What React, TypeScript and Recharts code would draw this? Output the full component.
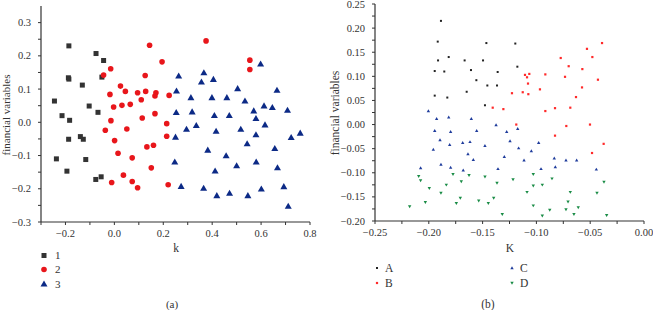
import React from 'react';
import { ScatterChart, Scatter, XAxis, YAxis } from 'recharts';

// ---------- Panel (a) data ----------
const cluster1: [number, number][] = [
  [-0.245, 0.064], [-0.186, 0.23], [-0.188, 0.134], [-0.186, 0.13], [-0.075, 0.207],
  [-0.044, 0.186], [-0.051, 0.136], [-0.131, 0.112], [-0.103, 0.049], [-0.067, 0.03],
  [-0.214, 0.02], [-0.183, 0.006], [-0.187, -0.051], [-0.139, -0.043], [-0.127, -0.051],
  [-0.237, -0.11], [-0.117, -0.112], [-0.194, -0.147], [-0.076, -0.172], [-0.054, -0.164],
];
const cluster2: [number, number][] = [
  [0.144, 0.232], [0.375, 0.245], [0.195, 0.182], [0.554, 0.187], [0.554, 0.159],
  [-0.015, 0.161], [-0.044, 0.142], [0.126, 0.141], [0.025, 0.109], [0.045, 0.093],
  [0.095, 0.089], [0.128, 0.093], [0.17, 0.089], [0.166, 0.079], [-0.018, 0.084],
  [0.224, 0.081], [0.11, 0.068], [-0.003, 0.046], [0.031, 0.051], [0.065, 0.054],
  [0.166, 0.026], [0.114, 0.013], [-0.014, 0.005], [0.214, -0.004], [0.051, -0.02],
  [-0.037, -0.024], [0.214, -0.042], [0.001, -0.055], [0.133, -0.074], [0.16, -0.069],
  [0.015, -0.093], [0.073, -0.107], [0.151, -0.137], [0.037, -0.159], [-0.011, -0.181],
  [0.073, -0.178], [0.095, -0.197], [0.22, -0.188],
];
const cluster3: [number, number][] = [
  [0.263, 0.139], [0.366, 0.149], [0.405, 0.129], [0.356, 0.121], [0.598, 0.175],
  [0.254, 0.094], [0.313, 0.074], [0.399, 0.074], [0.46, 0.074], [0.504, 0.101],
  [0.534, 0.064], [0.665, 0.096], [0.57, 0.034], [0.612, 0.049], [0.646, 0.044],
  [0.708, 0.036], [0.253, 0.029], [0.318, 0.031], [0.409, 0.02], [0.47, 0.02],
  [0.579, 0.011], [0.335, -0.01], [0.295, -0.021], [0.517, -0.021], [0.416, -0.027],
  [0.616, -0.008], [0.25, -0.045], [0.579, -0.038], [0.76, -0.033], [0.723, -0.046],
  [0.543, -0.065], [0.656, -0.079], [0.382, -0.084], [0.457, -0.101], [0.247, -0.12],
  [0.412, -0.147], [0.5, -0.131], [0.58, -0.12], [0.667, -0.137], [0.273, -0.193],
  [0.365, -0.199], [0.419, -0.221], [0.471, -0.214], [0.546, -0.221], [0.601, -0.201],
  [0.693, -0.194], [0.711, -0.253],
];
const legendA = ['1', '2', '3'];
const xMajorA = [-0.2, 0, 0.2, 0.4, 0.6, 0.8];
const xMinorA = [-0.3, -0.1, 0.1, 0.3, 0.5, 0.7];
const yMajorA = [-0.3, -0.2, -0.1, 0, 0.1, 0.2, 0.3];
const yMinorA = [-0.25, -0.15, -0.05, 0.05, 0.15, 0.25];

// ---------- Panel (b) data ----------
const groupA: [number, number][] = [
  [-0.1887, 0.215], [-0.1917, 0.172], [-0.1914, 0.133], [-0.1815, 0.14], [-0.1945, 0.111],
  [-0.1856, 0.11], [-0.1945, 0.06], [-0.1828, 0.056], [-0.1667, 0.133], [-0.1608, 0.113],
  [-0.1648, 0.068], [-0.1558, 0.092], [-0.1496, 0.133], [-0.1465, 0.169], [-0.1456, 0.081],
  [-0.136, 0.109], [-0.1366, 0.081], [-0.1478, 0.04], [-0.1196, 0.168], [-0.1177, 0.12],
];
const groupB: [number, number][] = [
  [-0.1406, 0.035], [-0.1307, 0.032], [-0.1227, 0.065], [-0.1187, 0.0], [-0.1127, 0.067],
  [-0.1106, 0.103], [-0.1087, 0.098], [-0.1066, 0.105], [-0.1078, 0.085], [-0.1075, 0.063],
  [-0.0967, 0.073], [-0.0917, 0.104], [-0.0917, 0.028], [-0.0827, 0.034], [-0.0827, -0.023],
  [-0.0774, 0.138], [-0.0734, 0.099], [-0.07, 0.121], [-0.0722, -0.003], [-0.0685, 0.035],
  [-0.0632, 0.057], [-0.0576, 0.077], [-0.0573, 0.115], [-0.053, 0.157], [-0.048, 0.14],
  [-0.0502, 0.0], [-0.0428, 0.093], [-0.039, 0.169], [-0.0375, -0.04], [-0.0483, -0.059],
];
const groupC: [number, number][] = [
  [-0.2004, 0.028], [-0.1927, 0.012], [-0.1815, 0.015], [-0.1945, -0.013], [-0.1896, -0.032],
  [-0.1797, -0.015], [-0.1806, -0.042], [-0.1958, -0.052], [-0.1685, -0.038], [-0.1617, -0.036],
  [-0.1605, 0.012], [-0.1555, -0.013], [-0.1636, -0.061], [-0.1586, -0.073], [-0.1478, -0.044],
  [-0.1375, -0.001], [-0.1276, -0.015], [-0.1245, -0.034], [-0.1174, -0.009], [-0.1165, -0.049],
  [-0.1298, -0.067], [-0.1115, -0.074], [-0.1047, -0.055], [-0.0979, -0.038], [-0.0834, -0.07],
  [-0.0725, -0.074], [-0.0626, -0.074], [-0.2076, -0.09], [-0.1887, -0.083], [-0.1797, -0.089],
  [-0.168, -0.095], [-0.1357, -0.092], [-0.0957, -0.092], [-0.0824, -0.088], [-0.0443, -0.093],
];
const groupD: [number, number][] = [
  [-0.2094, -0.107], [-0.2076, -0.116], [-0.1995, -0.132], [-0.2178, -0.17], [-0.2032, -0.161],
  [-0.1887, -0.142], [-0.1837, -0.125], [-0.1775, -0.103], [-0.1698, -0.118], [-0.1626, -0.105],
  [-0.1744, -0.163], [-0.1707, -0.152], [-0.1536, -0.158], [-0.1478, -0.108], [-0.1447, -0.163],
  [-0.1397, -0.152], [-0.1366, -0.121], [-0.1317, -0.186], [-0.1217, -0.114], [-0.1087, -0.14],
  [-0.1029, -0.103], [-0.1029, -0.127], [-0.1029, -0.168], [-0.0945, -0.125], [-0.0945, -0.189],
  [-0.0855, -0.112], [-0.0876, -0.177], [-0.0725, -0.176], [-0.0706, -0.16], [-0.0685, -0.14],
  [-0.0651, -0.186], [-0.0611, -0.172], [-0.0437, -0.142], [-0.0372, -0.119], [-0.0347, -0.188],
];
const legendB = ['A', 'B', 'C', 'D'];
const xMajorB = [-0.25, -0.2, -0.15, -0.1, -0.05, 0];
const xMinorB = [-0.225, -0.175, -0.125, -0.075, -0.025];
const yMajorB = [-0.2, -0.15, -0.1, -0.05, 0, 0.05, 0.1, 0.15, 0.2, 0.25];
const yMinorB = [-0.175, -0.125, -0.075, -0.025, 0.025, 0.075, 0.125, 0.175, 0.225];

const FONT = '"Liberation Serif", "DejaVu Serif", serif';
const TEXT = '#333';
const toPts = (a: [number, number][]) => a.map(([x, y]) => ({ x, y }));
const sortNum = (a: number[]) => [...a].sort((p, q) => p - q);
const fmt = (v: number, d: number) => v.toFixed(d).replace('-', '\u2212');
const isMajor = (v: number, majors: number[]) => majors.some((m) => Math.abs(m - v) < 1e-9);

const makeXTick = (majors: number[], d: number, fs: number) => (props: any) => {
  const { x, y, payload } = props;
  if (!isMajor(payload.value, majors)) return <g />;
  return (
    <text x={x} y={y + 10} textAnchor="middle" fontFamily={FONT} fontSize={fs} fill={TEXT}>
      {fmt(payload.value, d)}
    </text>
  );
};
const makeYTick = (majors: number[], d: number, fs: number) => (props: any) => {
  const { x, y, payload } = props;
  if (!isMajor(payload.value, majors)) return <g />;
  return (
    <text x={x - 5} y={y + 3.5} textAnchor="end" fontFamily={FONT} fontSize={fs} fill={TEXT}>
      {fmt(payload.value, d)}
    </text>
  );
};

// shapes
const Square = (size: number, fill: string) => (p: any) => (
  <rect x={p.cx - size / 2} y={p.cy - size / 2} width={size} height={size} fill={fill} />
);
const Dot = (r: number, fill: string) => (p: any) => <circle cx={p.cx} cy={p.cy} r={r} fill={fill} />;
const TriUp = (w: number, fill: string) => (p: any) => {
  const h = w * 0.87;
  return (
    <path d={`M${p.cx},${p.cy - h * 0.6} L${p.cx + w / 2},${p.cy + h * 0.4} L${p.cx - w / 2},${p.cy + h * 0.4} Z`} fill={fill} />
  );
};
const TriDown = (w: number, fill: string) => (p: any) => {
  const h = w * 0.87;
  return (
    <path d={`M${p.cx},${p.cy + h * 0.6} L${p.cx + w / 2},${p.cy - h * 0.4} L${p.cx - w / 2},${p.cy - h * 0.4} Z`} fill={fill} />
  );
};

const C1 = '#333333';
const C2 = '#e8161b';
const C3 = '#0c2a86';
const CA = '#222222';
const CB = '#ff2a2a';
const CC = '#1f3c9c';
const CD = '#1a8c46';

const axisLine = { stroke: '#333', strokeWidth: 1.2 };
const frameLine = { stroke: '#888', strokeWidth: 1.6 };

function PanelA() {
  return (
    <ScatterChart width={320} height={310} margin={{ top: 6, right: 10, bottom: 0, left: 0 }}>
      <XAxis
        xAxisId="b" type="number" dataKey="x" domain={[-0.3, 0.8]} ticks={sortNum([...xMajorA, ...xMinorA])}
        height={88} tickSize={3} axisLine={axisLine} tickLine={{ stroke: '#333' }}
        tick={makeXTick(xMajorA, 1, 10.5)} interval={0} allowDataOverflow
      />
      <XAxis xAxisId="t" orientation="top" type="number" dataKey="x" domain={[-0.3, 0.8]} height={0} tick={false} tickLine={false} axisLine={frameLine} />
      <YAxis
        yAxisId="l" type="number" dataKey="y" domain={[-0.3, 0.35]} ticks={sortNum([...yMajorA, ...yMinorA])}
        width={41} tickSize={3} axisLine={axisLine} tickLine={{ stroke: '#333' }}
        tick={makeYTick(yMajorA, 1, 10.5)} interval={0} allowDataOverflow
      />
      <YAxis yAxisId="r" orientation="right" type="number" dataKey="y" domain={[-0.3, 0.35]} width={0} tick={false} tickLine={false} axisLine={frameLine} />
      <Scatter xAxisId="b" yAxisId="l" data={toPts(cluster1)} shape={Square(5, C1)} isAnimationActive={false} />
      <Scatter xAxisId="b" yAxisId="l" data={toPts(cluster2)} shape={Dot(2.8, C2)} isAnimationActive={false} />
      <Scatter xAxisId="b" yAxisId="l" data={toPts(cluster3)} shape={TriUp(7, C3)} isAnimationActive={false} />
    </ScatterChart>
  );
}

function PanelB() {
  return (
    <ScatterChart width={323} height={310} margin={{ top: 4, right: 9, bottom: 0, left: 0 }}>
      <XAxis
        xAxisId="b" type="number" dataKey="x" domain={[-0.25, 0]} ticks={sortNum([...xMajorB, ...xMinorB])}
        height={89} tickSize={3} axisLine={axisLine} tickLine={{ stroke: '#333' }}
        tick={makeXTick(xMajorB, 2, 10.5)} interval={0} allowDataOverflow
      />
      <XAxis xAxisId="t" orientation="top" type="number" dataKey="x" domain={[-0.25, 0]} height={0} tick={false} tickLine={false} axisLine={frameLine} />
      <YAxis
        yAxisId="l" type="number" dataKey="y" domain={[-0.2, 0.25]} ticks={sortNum([...yMajorB, ...yMinorB])}
        width={45} tickSize={3} axisLine={axisLine} tickLine={{ stroke: '#333' }}
        tick={makeYTick(yMajorB, 2, 10.5)} interval={0} allowDataOverflow
      />
      <YAxis yAxisId="r" orientation="right" type="number" dataKey="y" domain={[-0.2, 0.25]} width={0} tick={false} tickLine={false} axisLine={frameLine} />
      <Scatter xAxisId="b" yAxisId="l" data={toPts(groupA)} shape={Square(2, CA)} isAnimationActive={false} />
      <Scatter xAxisId="b" yAxisId="l" data={toPts(groupB)} shape={Square(2.2, CB)} isAnimationActive={false} />
      <Scatter xAxisId="b" yAxisId="l" data={toPts(groupC)} shape={TriUp(3.4, CC)} isAnimationActive={false} />
      <Scatter xAxisId="b" yAxisId="l" data={toPts(groupD)} shape={TriDown(3.4, CD)} isAnimationActive={false} />
    </ScatterChart>
  );
}

function Overlay() {
  const symA = [
    (x: number, y: number) => <rect x={x - 2.5} y={y - 2.5} width={5} height={5} fill={C1} />,
    (x: number, y: number) => <circle cx={x} cy={y} r={2.8} fill={C2} />,
    (x: number, y: number) => <path d={`M${x},${y - 3.6} L${x + 3.5},${y + 2.4} L${x - 3.5},${y + 2.4} Z`} fill={C3} />,
  ];
  const symB = [
    (x: number, y: number) => <rect x={x - 1} y={y - 1} width={2} height={2} fill={CA} />,
    (x: number, y: number) => <rect x={x - 1.1} y={y - 1.1} width={2.2} height={2.2} fill={CB} />,
    (x: number, y: number) => <path d={`M${x},${y - 1.8} L${x + 1.7},${y + 1.2} L${x - 1.7},${y + 1.2} Z`} fill={CC} />,
    (x: number, y: number) => <path d={`M${x},${y + 1.8} L${x + 1.7},${y - 1.2} L${x - 1.7},${y - 1.2} Z`} fill={CD} />,
  ];
  const posB = [
    { sx: 377, tx: 385, y: 268 },
    { sx: 377, tx: 385, y: 283 },
    { sx: 512, tx: 520, y: 268 },
    { sx: 512, tx: 520, y: 283 },
  ];
  const yA = [255.5, 269.5, 284];
  return (
    <svg width={653} height={310} style={{ position: 'absolute', left: 0, top: 0, pointerEvents: 'none' }}>
      <g fontFamily={FONT} fill={TEXT}>
        <text x={0} y={0} transform="translate(10,115) rotate(-90)" textAnchor="middle" fontSize={11}>financial variables</text>
        <text x={176} y={252} textAnchor="middle" fontSize={11.5}>k</text>
        {legendA.map((l, i) => (
          <g key={l}>
            {symA[i](44, yA[i])}
            <text x={55} y={yA[i] + 3.8} fontSize={11}>{l}</text>
          </g>
        ))}
        <text x={172} y={308} textAnchor="middle" fontSize={11}>(a)</text>

        <text x={0} y={0} transform="translate(339,113) rotate(-90)" textAnchor="middle" fontSize={11.5}>financial variables</text>
        <text x={510} y={252} textAnchor="middle" fontSize={11.5}>K</text>
        {legendB.map((l, i) => (
          <g key={l}>
            {symB[i](posB[i].sx, posB[i].y)}
            <text x={posB[i].tx} y={posB[i].y + 4} fontSize={11.5}>{l}</text>
          </g>
        ))}
        <text x={488} y={308} textAnchor="middle" fontSize={11.5}>(b)</text>
      </g>
    </svg>
  );
}

export default function App() {
  return (
    <div style={{ position: 'absolute', left: 0, top: 0, width: 653, height: 310, background: '#fff', overflow: 'hidden' }}>
      <div style={{ position: 'absolute', left: 0, top: 0 }}>
        <PanelA />
      </div>
      <div style={{ position: 'absolute', left: 330, top: 0 }}>
        <PanelB />
      </div>
      <Overlay />
    </div>
  );
}
